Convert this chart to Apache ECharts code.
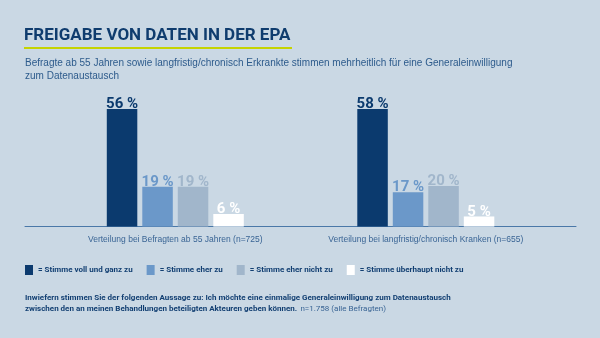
<!DOCTYPE html>
<html><head><meta charset="utf-8">
<script src="https://cdn.jsdelivr.net/npm/echarts@6/dist/echarts.min.js"></script>
<style>html,body{margin:0;padding:0;background:#cad8e4}#c{width:600px;height:338px}</style>
</head><body><div id="c"></div>
<script>
const groups = ['Verteilung bei Befragten ab 55 Jahren (n=725)', 'Verteilung bei langfristig/chronisch Kranken (n=655)'];
const answers = ['Stimme voll und ganz zu', 'Stimme eher zu', 'Stimme eher nicht zu', 'Stimme überhaupt nicht zu'];
const valuesAge55 = [56, 19, 19, 6];
const valuesChronic = [58, 17, 20, 5];
const colors = ['#0b3a6e', '#6b98c9', '#a1b6cb', '#ffffff'];

const FONT = 'Liberation Sans, Arial, sans-serif';
const ROBOTO = 'Roboto, Liberation Sans, Arial, sans-serif';
const groupData = [valuesAge55, valuesChronic];

const chart = echarts.init(document.getElementById('c'), null, {renderer: 'canvas'});
const grids = [
  {left: 25, width: 300.6, top: 109, height: 117.6},
  {left: 275.6, width: 300.4, top: 109, height: 117.6}
];
const xAxes = groups.map((g, i) => ({
  type: 'category', gridIndex: i, data: [g],
  axisTick: {show: false},
  axisLine: {lineStyle: {color: '#4a78a8', width: 1}},
  axisLabel: {color: '#3a6595', fontSize: 8.5, fontFamily: FONT, margin: 9}
}));
const yAxes = groups.map((g, i) => ({
  type: 'value', gridIndex: i, min: 0, max: 'dataMax',
  show: false, splitLine: {show: false}
}));
const series = [];
groupData.forEach((vals, gi) => {
  answers.forEach((a, ai) => {
    series.push({
      type: 'bar', name: a, xAxisIndex: gi, yAxisIndex: gi,
      data: [vals[ai]], barWidth: 30.5, barGap: '16.4%',
      itemStyle: {color: colors[ai]},
      label: {show: true, position: 'top', distance: -3, formatter: '{c} %',
        color: colors[ai], fontSize: 15, fontWeight: 'bold', fontFamily: ROBOTO},
      animation: false
    });
  });
});

chart.setOption({
  backgroundColor: '#cad8e4',
  animation: false,
  grid: grids, xAxis: xAxes, yAxis: yAxes, series: series,
  legend: {
    data: answers, left: 20, top: 260, icon: 'rect', itemWidth: 8, itemHeight: 10, itemGap: 14,
    formatter: '= {name}', selectedMode: false,
    textStyle: {color: '#123f72', fontSize: 8, fontWeight: 'bold', fontFamily: ROBOTO}
  },
  graphic: [
    {type: 'text', left: 24, top: 27, style: {text: 'FREIGABE VON DATEN IN DER EPA', fill: '#0f3c6e', font: 'bold 17px ' + ROBOTO}},
    {type: 'rect', left: 24, top: 47, shape: {width: 268, height: 2}, style: {fill: '#c5d300'}},
    {type: 'text', left: 25, top: 57, style: {text: 'Befragte ab 55 Jahren sowie langfristig/chronisch Erkrankte stimmen mehrheitlich für eine Generaleinwilligung\nzum Datenaustausch', fill: '#2d5b8c', font: '10px ' + FONT, lineHeight: 13}},
    {type: 'text', left: 25, top: 294, style: {
      rich: {b: {fill: '#123f72', fontWeight: 'bold', fontSize: 8, fontFamily: ROBOTO, lineHeight: 10},
             n: {fill: '#3a6595', fontSize: 8, fontFamily: ROBOTO, lineHeight: 10}},
      text: '{b|Inwiefern stimmen Sie der folgenden Aussage zu: Ich möchte eine einmalige Generaleinwilligung zum Datenaustausch}\n{b|zwischen den an meinen Behandlungen beteiligten Akteuren geben können.} {n|n=1.758 (alle Befragten)}'
    }}
  ]
});
</script></body></html>
